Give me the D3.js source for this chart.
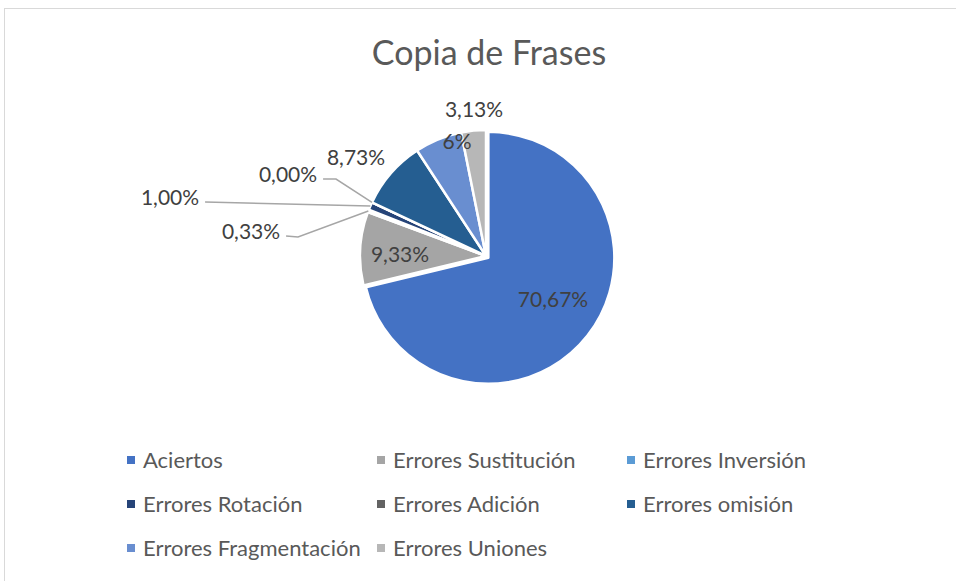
<!DOCTYPE html>
<html>
<head>
<meta charset="utf-8">
<script src="https://cdn.jsdelivr.net/npm/d3@7"></script>
<style>
  body { margin: 0; background: #fff; }
  text { font-family: Lato, "Open Sans", sans-serif; }
</style>
</head>
<body>
<div id="chart"></div>
<script>
// Data
// ==============================================================================
var categories = ["Aciertos", "Errores Sustitución", "Errores Inversión", "Errores Rotación",
  "Errores Adición", "Errores omisión", "Errores Fragmentación", "Errores Uniones"];
var values = [70.67, 9.33, 0.33, 1.00, 0.00, 8.73, 6, 3.13];
var labels = ["70,67%", "9,33%", "0,33%", "1,00%", "0,00%", "8,73%", "6%", "3,13%"];
var colors = ["#4472C4", "#A5A5A5", "#5B9BD5", "#264478", "#636363", "#255E91", "#698ED0", "#B7B7B7"];

// Step 1: canvas
// ==============================================================================
var svgWidth = 956;
var svgHeight = 581;

var svg = d3.select("#chart")
  .append("svg")
  .attr("width", svgWidth)
  .attr("height", svgHeight);

// chart frame
svg.append("rect")
  .attr("x", 4.5)
  .attr("y", 8.5)
  .attr("width", 1000)
  .attr("height", 600)
  .attr("fill", "none")
  .attr("stroke", "#d9d9d9");

// title
svg.append("text")
  .attr("x", 489)
  .attr("y", 65)
  .attr("text-anchor", "middle")
  .attr("fill", "#595959")
  .style("font-size", "34px")
  .text("Copia de Frases");

// Step 2: pie
// ==============================================================================
var cx = 486, cy = 256, radius = 126;

var pie = d3.pie().sort(null).value(d => d);
var arcs = pie(values);

var arc = d3.arc().innerRadius(0).outerRadius(radius);

var pieGroup = svg.append("g")
  .attr("transform", `translate(${cx}, ${cy})`);

// Aciertos slice is pulled slightly out
function explode(d, i) {
  var off = i === 0 ? 3 : 0;
  var a = (d.startAngle + d.endAngle) / 2;
  return `translate(${Math.sin(a) * off}, ${-Math.cos(a) * off})`;
}

pieGroup.selectAll("path")
  .data(arcs)
  .enter()
  .append("path")
  .attr("d", arc)
  .attr("transform", explode)
  .attr("fill", (d, i) => colors[i])
  .attr("stroke", "#fff")
  .attr("stroke-width", 2.5)
  .attr("stroke-linejoin", "round");

// Step 3: data labels
// ==============================================================================
// label centre relative to pie centre, plus leader elbow (or null)
var labelPos = [
  [67, 44, null],
  [-86, -1, null],
  [-235, -24, [-188, -19]],
  [-316, -58, null],
  [-198, -81, [-150, -77]],
  [-130, -98, null],
  [-29, -114, null],
  [-12, -146, null]
];

var labelText = pieGroup.selectAll("text.lbl")
  .data(arcs)
  .enter()
  .append("text")
  .attr("class", "lbl")
  .attr("x", (d, i) => labelPos[i][0])
  .attr("y", (d, i) => labelPos[i][1])
  .attr("dy", "0.35em")
  .attr("text-anchor", "middle")
  .attr("fill", "#404040")
  .style("font-size", "21px")
  .text((d, i) => labels[i]);

// leader lines for the tiny slices
labelText.filter((d, i) => i >= 2 && i <= 4).each(function(d) {
  var i = d.index;
  var half = this.getComputedTextLength() / 2;
  var a = (d.startAngle + d.endAngle) / 2;
  var p0 = [Math.sin(a) * radius, -Math.cos(a) * radius];
  var lp = labelPos[i];
  var start = [lp[0] + half + 6, lp[1] + 4];
  var pts = [start];
  if (lp[2]) pts.push(lp[2]);
  pts.push(p0);
  pieGroup.insert("polyline", "text")
    .attr("fill", "none")
    .attr("stroke", "#a6a6a6")
    .attr("stroke-width", 1.5)
    .attr("points", pts.map(p => p.join(",")).join(" "));
});

// Step 4: legend
// ==============================================================================
var legendX = [127, 377, 627];
var legendY = [460, 504, 548];

var legend = svg.selectAll("g.legend")
  .data(categories)
  .enter()
  .append("g")
  .attr("class", "legend")
  .attr("transform", (d, i) => `translate(${legendX[i % 3]}, ${legendY[Math.floor(i / 3)]})`);

legend.append("rect")
  .attr("x", 0)
  .attr("y", -4)
  .attr("width", 8)
  .attr("height", 8)
  .attr("fill", (d, i) => colors[i]);

legend.append("text")
  .attr("x", 16)
  .attr("y", 0)
  .attr("dy", "0.35em")
  .attr("fill", "#595959")
  .style("font-size", "22px")
  .text(d => d);
</script>
</body>
</html>
